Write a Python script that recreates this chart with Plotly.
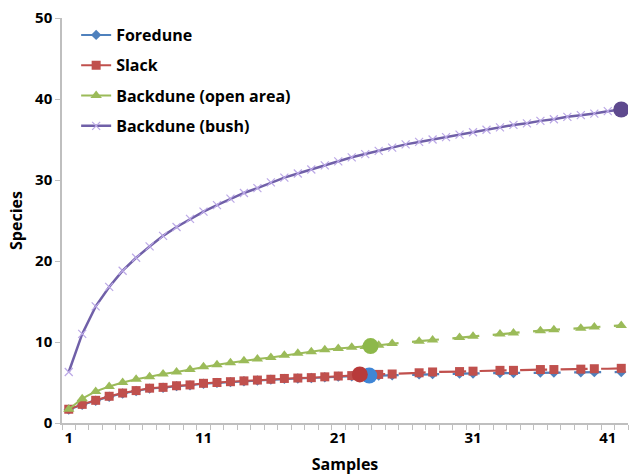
import plotly.graph_objects as go

samples = list(range(1, 43))

# Backdune (bush) - observed across all 42 samples
bush = [6.3, 11.0, 14.4, 16.8, 18.8, 20.4, 21.8, 23.1, 24.2, 25.2,
        26.1, 26.9, 27.7, 28.4, 29.0, 29.7, 30.3, 30.8, 31.3, 31.8,
        32.3, 32.8, 33.2, 33.6, 34.0, 34.4, 34.7, 35.0, 35.3, 35.6,
        35.9, 36.2, 36.5, 36.8, 37.0, 37.3, 37.5, 37.8, 38.0, 38.2,
        38.5, 38.7]

# Backdune (open area)
open_area = [1.7, 3.0, 3.9, 4.5, 5.0, 5.4, 5.7, 6.05, 6.3, 6.6,
             6.95, 7.2, 7.45, 7.7, 7.9, 8.1, 8.35, 8.6, 8.8, 9.05,
             9.2, 9.35, 9.45, 9.6, 9.8, 9.95, 10.1, 10.25, 10.4, 10.55,
             10.7, 10.85, 11.0, 11.1, 11.25, 11.4, 11.5, 11.6, 11.7, 11.85,
             11.95, 12.05]

# Slack
slack = [1.7, 2.3, 2.8, 3.3, 3.7, 4.0, 4.3, 4.4, 4.6, 4.7,
         4.9, 5.0, 5.1, 5.2, 5.3, 5.4, 5.5, 5.55, 5.6, 5.7,
         5.8, 5.85, 5.95, 6.0, 6.05, 6.15, 6.2, 6.3, 6.3, 6.35,
         6.4, 6.45, 6.5, 6.5, 6.55, 6.6, 6.6, 6.65, 6.65, 6.7,
         6.7, 6.75]

# Foredune
foredune = [1.65, 2.25, 2.75, 3.25, 3.65, 3.95, 4.25, 4.35, 4.55, 4.65,
            4.85, 4.95, 5.05, 5.15, 5.25, 5.35, 5.45, 5.5, 5.55, 5.65,
            5.72, 5.78, 5.82, 5.85, 5.9, 5.95, 6.0, 6.03, 6.06, 6.09,
            6.12, 6.14, 6.16, 6.18, 6.2, 6.22, 6.24, 6.25, 6.27, 6.28,
            6.29, 6.3]

# observed sample counts (end of solid part) and big markers
obs_end = {"Foredune": 24, "Slack": 23, "Backdune (open area)": 24, "Backdune (bush)": 42}
obs_marker_x = {"Foredune": 23.3, "Slack": 22.6, "Backdune (open area)": 23.4, "Backdune (bush)": 42}
obs_marker_y = {"Foredune": 5.85, "Slack": 6.0, "Backdune (open area)": 9.5, "Backdune (bush)": 38.7}

x_tick_vals = [1, 11, 21, 31, 41]
y_tick_vals = [0, 10, 20, 30, 40, 50]

series = [
    ("Foredune", foredune, "#4F81BD", "#3F86D6", "diamond", 8, "#4F81BD"),
    ("Slack", slack, "#C0504D", "#B83A3A", "square", 9, "#C0504D"),
    ("Backdune (open area)", open_area, "#9BBB59", "#8DB84A", "triangle-up", 10, "#9BBB59"),
    ("Backdune (bush)", bush, "#7060A8", "#5E4A8E", "x-thin", 8, "#BBA8E6"),
]

DASH = "20px,13.5px,27px,13.5px,27px,13.5px,27px,13.5px,27px,13.5px,27px,13.5px,27px,13.5px"

fig = go.Figure()
for name, vals, lc, cc, sym, ms, mc in series:
    n = obs_end[name]
    xs = samples[:n]
    ys = vals[:n]
    marker = dict(symbol=sym, size=ms, color=mc, opacity=1, line=dict(width=0))
    if sym == "x-thin":
        marker["line"] = dict(color=mc, width=1.2)
    fig.add_trace(go.Scatter(
        x=xs, y=ys, mode="lines+markers", name=name, legendgroup=name,
        line=dict(color=lc, width=2.5 if sym == "x-thin" else 2),
        marker=marker,
    ))
    if n < len(samples):
        ex = samples[n - 1:]
        ey = vals[n - 1:]
        # markers hidden where the dash gap falls (as in reference)
        sizes = [0 if (x - 26) % 3 == 0 else ms for x in ex]
        sizes[0] = 0
        fig.add_trace(go.Scatter(
            x=ex, y=ey, mode="lines+markers", name=name, legendgroup=name,
            showlegend=False,
            line=dict(color=lc, width=2.2, dash=DASH),
            marker=dict(symbol=sym, size=sizes, color=mc, opacity=1,
                        line=dict(width=0, color=mc)),
        ))

for name, vals, lc, cc, sym, ms, mc in series:
    fig.add_trace(go.Scatter(
        x=[obs_marker_x[name]], y=[obs_marker_y[name]], mode="markers",
        legendgroup=name, showlegend=False,
        marker=dict(symbol="circle", size=16, color=cc, opacity=1, line=dict(width=0)),
    ))

font_family = "Open Sans, Liberation Sans, sans-serif"
fig.update_layout(
    width=629, height=476,
    margin=dict(l=62, r=1, t=18, b=53),
    plot_bgcolor="white", paper_bgcolor="white",
    font=dict(family=font_family, size=15, color="#000000", weight="bold"),
    showlegend=True,
    legend=dict(
        x=0.025, y=1.0, xanchor="left", yanchor="top",
        traceorder="grouped", tracegroupgap=6.5,
        bgcolor="rgba(0,0,0,0)",
        font=dict(family=font_family, size=16, color="#000000", weight="bold"),
        itemwidth=30,
    ),
    xaxis=dict(
        range=[0.5, 42.5],
        tickmode="array", tickvals=x_tick_vals, ticktext=[str(v) for v in x_tick_vals],
        ticks="", showgrid=False, zeroline=False,
        showline=True, linecolor="#BFBFBF", linewidth=1.5,
        minor=dict(ticks="outside", tickmode="linear", tick0=0.5, dtick=1,
                   ticklen=5, tickcolor="#BFBFBF", showgrid=False),
        title=dict(text="Samples", font=dict(size=16, weight="bold"), standoff=13),
        tickfont=dict(size=15, weight="bold"),
        fixedrange=True,
    ),
    yaxis=dict(
        range=[0, 50],
        tickmode="array", tickvals=y_tick_vals,
        ticks="outside", ticklen=5, tickcolor="#BFBFBF",
        showgrid=False, zeroline=False,
        showline=True, linecolor="#BFBFBF", linewidth=1.5,
        title=dict(text="Species", font=dict(size=16, weight="bold"), standoff=8),
        tickfont=dict(size=15, weight="bold"),
        fixedrange=True,
    ),
)

fig.write_html("out.html")
